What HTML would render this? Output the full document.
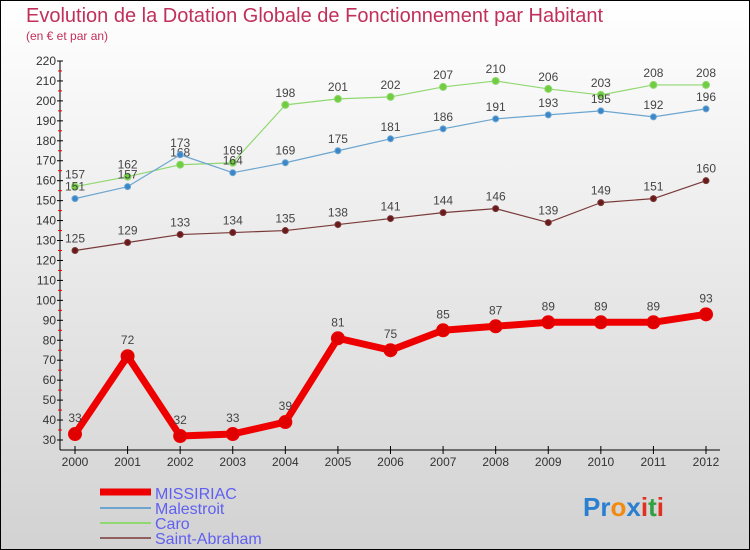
<!DOCTYPE html>
<html><head><meta charset="utf-8"><style>
body{margin:0;width:750px;height:550px;overflow:hidden}
svg{display:block;font-family:"Liberation Sans",sans-serif}
</style></head><body>
<svg width="750" height="550">
<defs><linearGradient id="bg" x1="0" y1="0" x2="0" y2="1"><stop offset="0" stop-color="#ffffff"/><stop offset="1" stop-color="#d2d2d2"/></linearGradient></defs>
<rect x="0.5" y="0.5" width="749" height="549" fill="url(#bg)" stroke="#000"/>
<text x="26" y="22" font-size="20" fill="#c0305a">Evolution de la Dotation Globale de Fonctionnement par Habitant</text>
<text x="26" y="40" font-size="12" fill="#c0305a">(en € et par an)</text>
<g id="axes"></g><g id="series"></g>
<g>
<line x1="100" y1="492" x2="151" y2="492" stroke="#e00" stroke-width="7"/>
<text x="155" y="499" font-size="16" fill="#6060f0">MISSIRIAC</text>
<line x1="100" y1="508" x2="151" y2="508" stroke="#6ca6d0" stroke-width="2"/>
<text x="155" y="514" font-size="16" fill="#6060f0">Malestroit</text>
<line x1="100" y1="523" x2="151" y2="523" stroke="#90d870" stroke-width="2"/>
<text x="155" y="529" font-size="16" fill="#6060f0">Caro</text>
<line x1="100" y1="538" x2="151" y2="538" stroke="#906060" stroke-width="2"/>
<text x="155" y="544" font-size="16" fill="#6060f0">Saint-Abraham</text>
</g>
<text x="583" y="516" font-size="26" font-weight="bold"><tspan fill="#2a7fd0">Pr</tspan><tspan fill="#f08a10">o</tspan><tspan fill="#2a7fd0">x</tspan><tspan fill="#e03020">i</tspan><tspan fill="#30a040">t</tspan><tspan fill="#e03020">i</tspan></text>
</svg>
<script>
const years=[2000,2001,2002,2003,2004,2005,2006,2007,2008,2009,2010,2011,2012];
const missiriac=[33,72,32,33,39,81,75,85,87,89,89,89,93];
const malestroit=[151,157,173,164,169,175,181,186,191,193,195,192,196];
const caro=[157,162,168,169,198,201,202,207,210,206,203,208,208];
const saintAbraham=[125,129,133,134,135,138,141,144,146,139,149,151,160];
const yTicks=[30,40,50,60,70,80,90,100,110,120,130,140,150,160,170,180,190,200,210,220];
const NS="http://www.w3.org/2000/svg";
const x=i=>75+i*(706-75)/(years.length-1);
const y=v=>440-(v-30)*(440-61)/190;
function mk(t,a,p){const e=document.createElementNS(NS,t);for(const k in a)e.setAttribute(k,a[k]);p.appendChild(e);return e;}
const ax=document.getElementById('axes');
const yl=mk('line',{x1:60,y1:y(220),x2:60,y2:450,stroke:'#000'},ax);


const xl=mk('line',{x1:60,y1:450,x2:720,y2:450,stroke:'#000'},ax);


yTicks.forEach(v=>{
 mk('line',{x1:57,y1:y(v),x2:63,y2:y(v),stroke:'#000'},ax);
 if(v<220)mk('line',{x1:58,y1:y(v+5),x2:62,y2:y(v+5),stroke:'#e00'},ax);
 const t=mk('text',{x:56,y:y(v)+4,'font-size':12,fill:'#333','text-anchor':'end'},ax);
 t.textContent=v;
 
 
});
years.forEach((yr,i)=>{
 mk('line',{x1:x(i),y1:446,x2:x(i),y2:454,stroke:'#000'},ax);
 const t=mk('text',{x:x(i),y:466,'font-size':12,fill:'#333','text-anchor':'middle'},ax);
 t.textContent=yr;
 
 
});
const sg=document.getElementById('series');
function draw(name,data,color,fill,w,r,lab){
 const g=mk('g',{},sg);
 
 
 const pl=mk('polyline',{points:data.map((v,i)=>x(i)+','+y(v)).join(' '),fill:'none',stroke:color,'stroke-width':w,'stroke-linejoin':'round'},g);
 
 
 data.forEach((v,i)=>{
  const c=mk('circle',{cx:x(i),cy:y(v),r:r,fill:fill,stroke:color,'stroke-width':1},g);
  
  
  const t=mk('text',{x:x(i),y:y(v)-lab,'font-size':12,fill:'#444','text-anchor':'middle'},g);
  t.textContent=v;
  
  
 });
}
draw('saint-abraham',saintAbraham,'#7a3a3a','#6a1a1a',1.2,3,8);
draw('caro',caro,'#90d870','#70cc40',1.2,3.5,8);
draw('malestroit',malestroit,'#6ca6d0','#3a86c8',1.2,3,8);
draw('missiriac',missiriac,'#ee0000','#e00000',7,6.5,12);
</script>
</body></html>
